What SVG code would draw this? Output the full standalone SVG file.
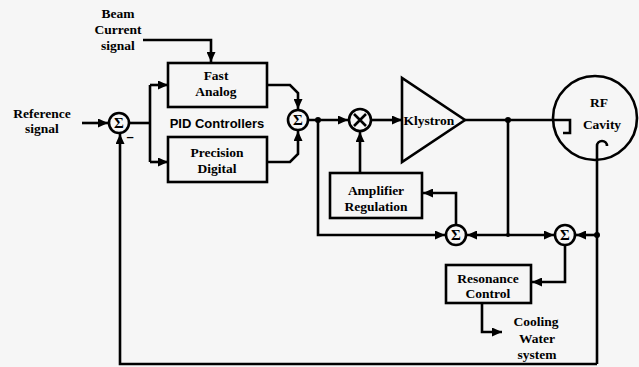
<svg xmlns="http://www.w3.org/2000/svg" width="639" height="367" viewBox="0 0 639 367">
<style>
.bg{fill:#f6f6f6}
.box{fill:none;stroke:#000;stroke-width:2.6}
.ln{fill:none;stroke:#000;stroke-width:2.6;stroke-linejoin:miter}
.arr{marker-end:url(#ah)}
.t{font-family:"Liberation Serif","Times New Roman",serif;font-weight:bold;font-size:13.5px;fill:#000;text-anchor:middle}
.s{font-family:"Liberation Serif","Times New Roman",serif;font-weight:bold;font-size:15px;fill:#000;text-anchor:middle}
.pid{font-family:"Liberation Sans",Arial,sans-serif;font-weight:bold;font-size:13px;fill:#000;text-anchor:middle}
.dot{fill:#000}
</style>
<defs>
<marker id="ah" markerUnits="userSpaceOnUse" markerWidth="10" markerHeight="9" refX="10" refY="4.5" orient="auto">
<path d="M0,0 L10,4.5 L0,9 z" fill="#000"/>
</marker>
</defs>
<rect class="bg" x="0" y="0" width="639" height="367"/>

<g id="connectors">
<path class="ln arr" d="M82,123 H108"/>
<path class="ln" d="M129,123 H150"/>
<path class="ln" d="M150,85 V162"/>
<path class="ln arr" d="M150,85 H168"/>
<path class="ln arr" d="M150,162 H168"/>
<path class="ln arr" d="M143,40 H211 V62"/>
<path class="ln arr" d="M267,85 H290 L298,93 V109"/>
<path class="ln arr" d="M267,162 H290 L298,154 V131"/>
<path class="ln arr" d="M308,120 H348"/>
<path class="ln arr" d="M318,120 V235 H445"/>
<path class="ln arr" d="M371,120 H402"/>
<path class="ln arr" d="M360,173 V132"/>
<path class="ln arr" d="M456,225 V193 H423"/>
<path class="ln" d="M465,120 H570 V133 H563"/>
<path class="ln" d="M508,120 V235"/>
<path class="ln arr" d="M508,235 H467"/>
<path class="ln arr" d="M508,235 H554"/>
<path class="ln" d="M597,364 V146 A5,5 0 0 1 607,146"/>
<path class="ln arr" d="M597,235 H576"/>
<path class="ln arr" d="M565,245 V282 H532"/>
<path class="ln arr" d="M482,303 V332 H502"/>
<path class="ln arr" d="M597,364 H120 V134"/>
<circle class="dot" cx="318" cy="120" r="3"/>
<circle class="dot" cx="508" cy="120" r="3"/>
<circle class="dot" cx="508" cy="235" r="2"/>
<circle class="dot" cx="597" cy="235" r="3"/>
</g>

<g id="reference-label">
<text class="t" x="42" y="118">Reference</text>
<text class="t" x="42" y="133">signal</text>
</g>

<g id="beam-label">
<text class="t" x="118" y="18">Beam</text>
<text class="t" x="118" y="34">Current</text>
<text class="t" x="118" y="50">signal</text>
</g>

<g id="sum1">
<circle class="box" cx="119" cy="123" r="10"/>
<text class="s" x="119" y="128">Σ</text>
<text class="pid" x="130" y="141">–</text>
</g>

<g id="fast-analog">
<rect class="box" x="168" y="63" width="99" height="44"/>
<text class="t" x="216" y="80">Fast</text>
<text class="t" x="216" y="96">Analog</text>
</g>

<g id="pid-label">
<text class="pid" x="217" y="128">PID Controllers</text>
</g>

<g id="precision-digital">
<rect class="box" x="168" y="137" width="99" height="45"/>
<text class="t" x="217" y="157">Precision</text>
<text class="t" x="217" y="173">Digital</text>
</g>

<g id="sum2">
<circle class="box" cx="298" cy="120" r="10"/>
<text class="s" x="298" y="125">Σ</text>
</g>

<g id="multiplier">
<circle class="box" cx="360" cy="120" r="11"/>
<path class="ln" d="M354,114 L366,126 M366,114 L354,126" stroke-width="3.4"/>
</g>

<g id="klystron">
<polygon class="box" points="402,78 402,162 465,120"/>
<text class="t" x="429" y="125">Klystron</text>
</g>

<g id="rf-cavity">
<circle class="box" cx="595" cy="118" r="42"/>
<text class="t" x="599" y="107">RF</text>
<text class="t" x="602" y="129">Cavity</text>
</g>

<g id="amplifier-regulation">
<rect class="box" x="330" y="173" width="92" height="45"/>
<text class="t" x="376" y="195">Amplifier</text>
<text class="t" x="376" y="211">Regulation</text>
</g>

<g id="sum3">
<circle class="box" cx="456" cy="235" r="10"/>
<text class="s" x="456" y="240">Σ</text>
</g>

<g id="sum4">
<circle class="box" cx="565" cy="235" r="10"/>
<text class="s" x="565" y="240">Σ</text>
</g>

<g id="resonance-control">
<rect class="box" x="446" y="265" width="85" height="38"/>
<text class="t" x="488" y="283">Resonance</text>
<text class="t" x="488" y="298">Control</text>
</g>

<g id="cooling-label">
<text class="t" x="536" y="326">Cooling</text>
<text class="t" x="537" y="343">Water</text>
<text class="t" x="537" y="359">system</text>
</g>
</svg>
